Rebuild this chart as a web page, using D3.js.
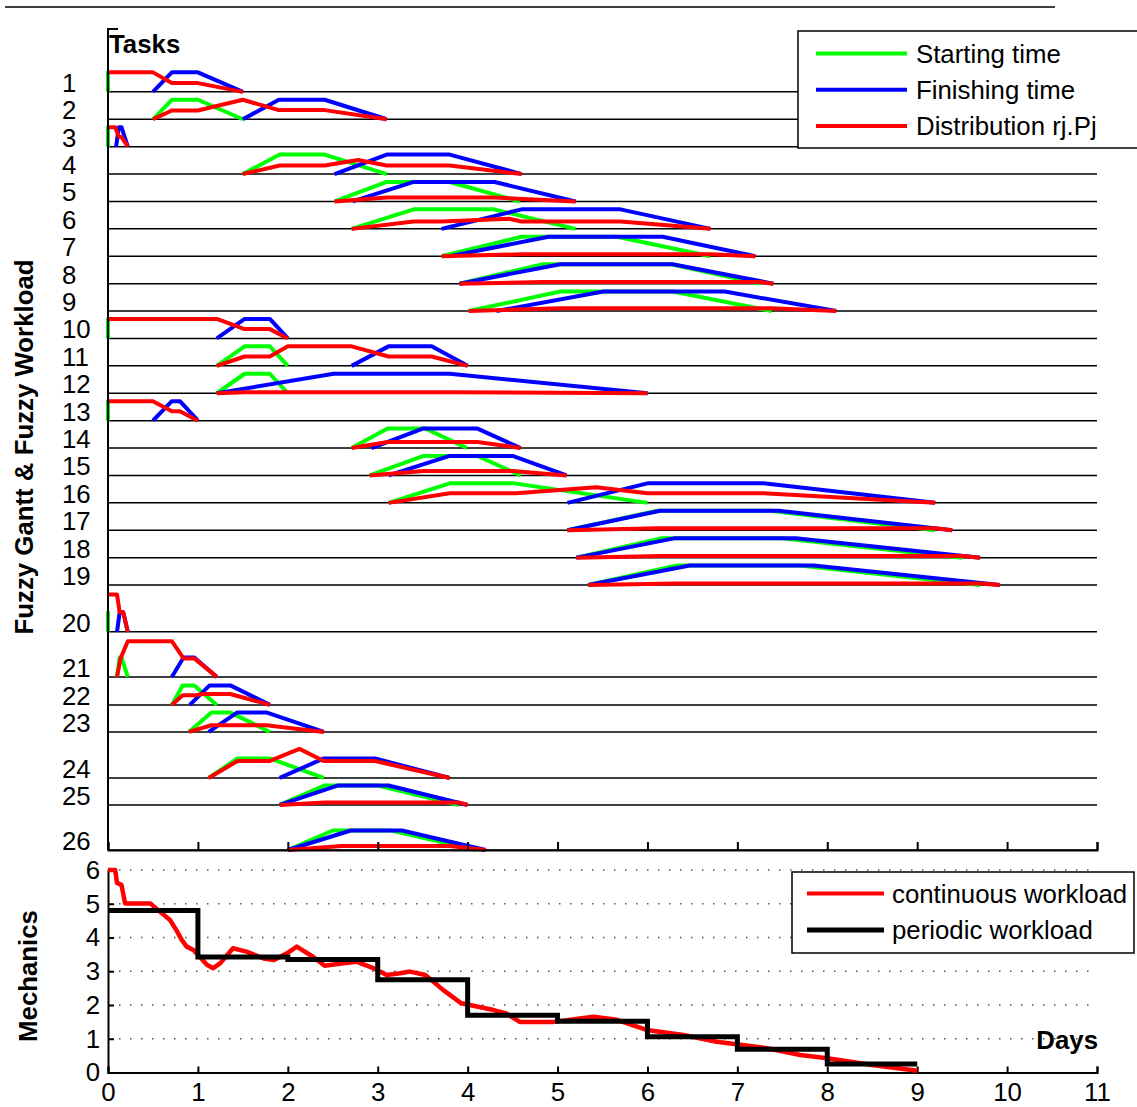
<!DOCTYPE html>
<html>
<head>
<meta charset="utf-8">
<script src="https://cdn.jsdelivr.net/npm/d3@7"></script>
<style>
  body { margin: 0; background: #fff; }
  text { font-family: "Liberation Sans", Arial, sans-serif; font-size: 25.8px; fill: #000; }
</style>
</head>
<body>
<svg id="chart" width="1137" height="1107"></svg>
<script>
'use strict';

// ---- data ----
const taskNames = d3.range(1, 27).map(String);

// vertical gap between the baseline of task k and task k+1 (unit = height of one fuzzy number)
const rowGap = [1.405, 1.405, 1.405, 1.405, 1.405, 1.405, 1.405, 1.405, 1.405,
                1.405, 1.405, 1.405, 1.405, 1.405, 1.405, 1.405, 1.405, 1.405,
                2.4, 2.31, 1.436, 1.385, 2.36, 1.385, 2.31];

// fuzzy starting times (trapezoids a,b,c,d in days)
const startTimes = [
  [0, 0, 0, 0], [0.5, 0.71, 1.0, 1.5], [0, 0, 0, 0], [1.5, 1.91, 2.41, 3.1],
  [2.52, 3.1, 3.8, 4.58], [2.71, 3.4, 4.29, 5.2], [3.71, 4.6, 5.66, 6.7],
  [3.91, 4.84, 6.25, 7.25], [4.01, 5.03, 6.28, 7.38], [0, 0, 0, 0],
  [1.21, 1.52, 1.8, 2.0], [1.21, 1.52, 1.8, 2.0], [0, 0, 0, 0],
  [2.71, 3.11, 3.53, 3.99], [2.91, 3.51, 4.11, 4.59], [3.12, 3.8, 4.52, 6.0],
  [5.11, 6.11, 7.37, 9.2], [5.21, 6.16, 7.5, 9.5], [5.34, 6.33, 7.7, 9.7],
  [0, 0, 0, 0], [0.1, 0.13, 0.15, 0.22], [0.71, 0.83, 0.96, 1.21],
  [0.9, 1.15, 1.36, 1.8], [1.12, 1.44, 1.8, 2.4], [1.91, 2.41, 3.0, 3.9],
  [2.0, 2.5, 3.15, 4.1]
];

// fuzzy finishing times
const finishTimes = [
  [0.5, 0.71, 1.0, 1.5], [1.5, 1.9, 2.41, 3.1], [0.09, 0.12, 0.15, 0.22],
  [2.52, 3.1, 3.8, 4.6], [2.72, 3.4, 4.3, 5.2], [3.71, 4.6, 5.7, 6.7],
  [3.8, 4.9, 6.17, 7.2], [3.91, 5.03, 6.28, 7.4], [4.32, 5.51, 6.86, 8.1],
  [1.21, 1.52, 1.8, 2.0], [2.71, 3.12, 3.6, 4.0], [1.21, 2.51, 3.8, 6.0],
  [0.5, 0.71, 0.8, 1.0], [2.93, 3.5, 4.11, 4.59], [3.12, 3.8, 4.5, 5.1],
  [5.11, 6.0, 7.29, 9.2], [5.11, 6.14, 7.46, 9.39], [5.21, 6.31, 7.65, 9.7],
  [5.34, 6.47, 7.85, 9.92], [0.1, 0.13, 0.17, 0.22], [0.71, 0.84, 0.96, 1.21],
  [0.91, 1.13, 1.36, 1.8], [1.12, 1.44, 1.76, 2.4], [1.91, 2.4, 2.97, 3.8],
  [1.91, 2.56, 3.12, 4.0], [2.0, 2.7, 3.27, 4.2]
];

// distribution rj.Pj : [day, level]
const distribution = [
  [[0, 1], [0.5, 1], [0.71, 0.45], [1.0, 0.45], [1.5, 0]],
  [[0.5, 0], [0.71, 0.45], [1.0, 0.45], [1.5, 1], [1.9, 0.47], [2.41, 0.47], [3.1, 0]],
  [[0, 1], [0.08, 1], [0.12, 0.5], [0.15, 0.5], [0.22, 0]],
  [[1.5, 0], [1.91, 0.44], [2.41, 0.44], [2.78, 0.72], [3.1, 0.44], [3.8, 0.44], [4.6, 0]],
  [[2.52, 0], [3.1, 0.2], [4.3, 0.2], [5.2, 0]],
  [[2.71, 0], [3.4, 0.38], [3.71, 0.38], [4.46, 0.52], [4.6, 0.38], [5.7, 0.38], [6.7, 0]],
  [[3.71, 0], [4.6, 0.1], [6.7, 0.1], [7.2, 0]],
  [[3.91, 0], [4.84, 0.08], [7.25, 0.08], [7.4, 0]],
  [[4.01, 0], [5.03, 0.15], [7.38, 0.15], [8.1, 0]],
  [[0, 1], [1.21, 1], [1.52, 0.48], [1.8, 0.48], [2.0, 0]],
  [[1.21, 0], [1.52, 0.48], [1.8, 0.48], [2.0, 1], [2.71, 1], [3.12, 0.48], [3.6, 0.48], [4.0, 0]],
  [[1.21, 0], [1.52, 0.05], [3.8, 0.05], [6.0, 0]],
  [[0, 1], [0.5, 1], [0.71, 0.48], [0.8, 0.48], [1.0, 0]],
  [[2.71, 0], [3.11, 0.31], [4.11, 0.31], [4.59, 0]],
  [[2.91, 0], [3.51, 0.23], [4.5, 0.23], [5.1, 0]],
  [[3.12, 0], [3.8, 0.49], [4.54, 0.49], [5.43, 0.8], [6.0, 0.49], [7.29, 0.49], [9.2, 0]],
  [[5.11, 0], [6.11, 0.1], [9.2, 0.1], [9.39, 0]],
  [[5.21, 0], [6.16, 0.08], [9.5, 0.08], [9.7, 0]],
  [[5.34, 0], [6.33, 0.08], [9.7, 0.08], [9.92, 0]],
  [[0, 1.92], [0.1, 1.92], [0.13, 1.0], [0.17, 1.0], [0.22, 0]],
  [[0.1, 0], [0.14, 0.95], [0.22, 1.83], [0.71, 1.83], [0.84, 0.95], [0.96, 0.95], [1.21, 0]],
  [[0.71, 0], [0.83, 0.49], [0.96, 0.49], [1.05, 0.56], [1.36, 0.56], [1.8, 0]],
  [[0.9, 0], [1.15, 0.34], [1.76, 0.34], [2.4, 0]],
  [[1.12, 0], [1.44, 0.87], [1.8, 0.87], [2.13, 1.49], [2.4, 0.87], [2.97, 0.87], [3.8, 0]],
  [[1.91, 0], [2.41, 0.13], [3.9, 0.13], [4.0, 0]],
  [[2.0, 0], [2.6, 0.2], [3.8, 0.2], [4.2, 0]]
];

// workload (mechanics)
const contDays = [0, 0.08, 0.1, 0.15, 0.19, 0.47, 0.58, 0.69, 0.76, 0.82, 0.875, 0.95, 1.02, 1.1,
  1.17, 1.25, 1.39, 1.54, 1.73, 1.84, 1.99, 2.1, 2.28, 2.41, 2.62, 2.77, 2.95, 3.1, 3.25, 3.36,
  3.53, 3.73, 3.93, 4.29, 4.43, 4.58, 4.95, 5.4, 5.66, 5.99, 6.4, 6.77, 7.33, 7.7, 8.0, 8.5, 9.0];
const contValues = [6.0, 6.0, 5.62, 5.56, 5.01, 5.01, 4.76, 4.52, 4.22, 3.93, 3.73, 3.63, 3.43, 3.19,
  3.09, 3.24, 3.68, 3.58, 3.38, 3.33, 3.53, 3.73, 3.43, 3.16, 3.24, 3.28, 3.09, 2.89, 2.94, 2.99,
  2.89, 2.44, 2.05, 1.85, 1.75, 1.5, 1.5, 1.65, 1.56, 1.26, 1.11, 0.91, 0.72, 0.52, 0.42, 0.22, 0.05];
const periodDays = [0, 1, 2, 3, 4, 5, 6, 7, 8, 9];
const periodValues = [4.8, 3.42, 3.35, 2.75, 1.7, 1.52, 1.06, 0.69, 0.25, 0.25];

const dayTicks = d3.range(0, 12);
const mechTicks = d3.range(0, 7);
const ganttLegend = ["Starting time", "Finishing time", "Distribution rj.Pj"];
const ganttColors = ["#00ff00", "#0000ff", "#ff0000"];
const loadLegend = ["continuous workload", "periodic workload"];

// ---- scales ----
let svg = d3.select("#chart");
let x = d3.scaleLinear().domain([0, 11]).range([108, 1097]);
let yTop = d3.scaleLinear().domain([0, 42.1]).range([850, 29]);
let yBot = d3.scaleLinear().domain([0, 6]).range([1072.5, 870]);

// baseline of each task, counted from the bottom row
let base = new Array(taskNames.length).fill(0);
for (let i = taskNames.length - 2; i >= 0; i--) {
	base[i] = base[i + 1] + rowGap[i];
}

function trap(t) {
	return [[t[0], 0], [t[1], 1], [t[2], 1], [t[3], 0]];
}

// rule at the very top of the figure
svg.append("line")
	.attr("x1", 5).attr("x2", 1055).attr("y1", 7).attr("y2", 7)
	.attr("stroke", "#000").attr("stroke-width", 1.5);

// ---- gantt panel ----
let gantt = svg.append("g");

gantt.selectAll(".rowline")
	.data(base)
	.enter().append("line")
	.attr("class", "rowline")
	.attr("x1", x(0)).attr("x2", x(11))
	.attr("y1", d => yTop(d)).attr("y2", d => yTop(d))
	.attr("stroke", "#000").attr("stroke-width", 1.5);

taskNames.forEach(function (name, i) {
	let line = d3.line()
		.x(d => x(d[0]))
		.y(d => yTop(base[i] + d[1]));
	let sets = [trap(startTimes[i]), trap(finishTimes[i]), distribution[i]];
	sets.forEach(function (pts, k) {
		gantt.append("path")
			.attr("d", line(pts))
			.attr("fill", "none")
			.attr("stroke", ganttColors[k])
			.attr("stroke-width", 4)
			.attr("stroke-linejoin", "round");
	});
	gantt.append("text")
		.attr("x", 62)
		.attr("y", yTop(base[i]))
		.text(name);
});

// axes of the gantt panel
gantt.append("g")
	.attr("transform", "translate(0,850)")
	.call(d3.axisBottom(x).tickValues(dayTicks).tickSize(-8).tickFormat(""))
	.call(g => g.selectAll("path,line").attr("stroke", "#000").attr("stroke-width", 2));
gantt.append("path")
	.attr("d", "M118,29H108V850")
	.attr("fill", "none").attr("stroke", "#000").attr("stroke-width", 2);

gantt.append("text")
	.attr("x", 109).attr("y", 53)
	.attr("font-weight", "bold")
	.text("Tasks");

gantt.append("text")
	.attr("transform", "translate(33,447) rotate(-90)")
	.attr("text-anchor", "middle")
	.attr("font-weight", "bold")
	.text("Fuzzy Gantt & Fuzzy Workload");

// legend of the gantt panel
let leg1 = svg.append("g");
leg1.append("rect")
	.attr("x", 798).attr("y", 31).attr("width", 345).attr("height", 117)
	.attr("fill", "#fff").attr("stroke", "#000").attr("stroke-width", 1.5);
ganttLegend.forEach(function (label, i) {
	let ly = 53.5 + i * 36.2;
	leg1.append("line")
		.attr("x1", 816).attr("x2", 907).attr("y1", ly).attr("y2", ly)
		.attr("stroke", ganttColors[i]).attr("stroke-width", 4);
	leg1.append("text")
		.attr("x", 916).attr("y", ly + 9)
		.text(label);
});

// ---- workload panel ----
let load = svg.append("g");

load.selectAll(".grid")
	.data(mechTicks.slice(1))
	.enter().append("line")
	.attr("class", "grid")
	.attr("x1", x(0)).attr("x2", x(11))
	.attr("y1", d => yBot(d)).attr("y2", d => yBot(d))
	.attr("stroke", "#555").attr("stroke-width", 1.3)
	.attr("stroke-dasharray", "1.5,9.5");

let xAxisG = load.append("g")
	.attr("transform", "translate(0,1072.5)")
	.call(d3.axisBottom(x).tickValues(dayTicks).tickSize(-6).tickPadding(10).tickFormat(d3.format("d")))
	.call(g => g.selectAll("path,line").attr("stroke", "#000").attr("stroke-width", 2));
xAxisG.attr("font-size", null).attr("font-family", null);

let yAxisG = load.append("g")
	.attr("transform", "translate(108,0)")
	.call(d3.axisLeft(yBot).tickValues(mechTicks).tickSize(-6).tickPadding(8).tickFormat(d3.format("d")))
	.call(g => g.selectAll("path,line").attr("stroke", "#000").attr("stroke-width", 2));
yAxisG.attr("font-size", null).attr("font-family", null);

let contLine = d3.line()
	.x((d, i) => x(contDays[i]))
	.y(d => yBot(d));
load.append("path")
	.attr("d", contLine(contValues))
	.attr("fill", "none").attr("stroke", "#ff0000").attr("stroke-width", 4.5)
	.attr("stroke-linejoin", "round");

let periodLine = d3.line()
	.curve(d3.curveStepAfter)
	.x((d, i) => x(periodDays[i]))
	.y(d => yBot(d));
load.append("path")
	.attr("d", periodLine(periodValues))
	.attr("fill", "none").attr("stroke", "#000").attr("stroke-width", 5);

load.append("text")
	.attr("transform", "translate(37,976) rotate(-90)")
	.attr("text-anchor", "middle")
	.attr("font-weight", "bold")
	.text("Mechanics");

load.append("text")
	.attr("x", 1098).attr("y", 1049)
	.attr("text-anchor", "end")
	.attr("font-weight", "bold")
	.text("Days");

let leg2 = svg.append("g");
leg2.append("rect")
	.attr("x", 792).attr("y", 872).attr("width", 342).attr("height", 81)
	.attr("fill", "#fff").attr("stroke", "#000").attr("stroke-width", 1.5);
loadLegend.forEach(function (label, i) {
	let ly = 893.5 + i * 36.5;
	leg2.append("line")
		.attr("x1", 807).attr("x2", 884).attr("y1", ly).attr("y2", ly)
		.attr("stroke", i === 0 ? "#ff0000" : "#000").attr("stroke-width", i === 0 ? 4 : 5);
	leg2.append("text")
		.attr("x", 892).attr("y", ly + 9)
		.text(label);
});
</script>
</body>
</html>
